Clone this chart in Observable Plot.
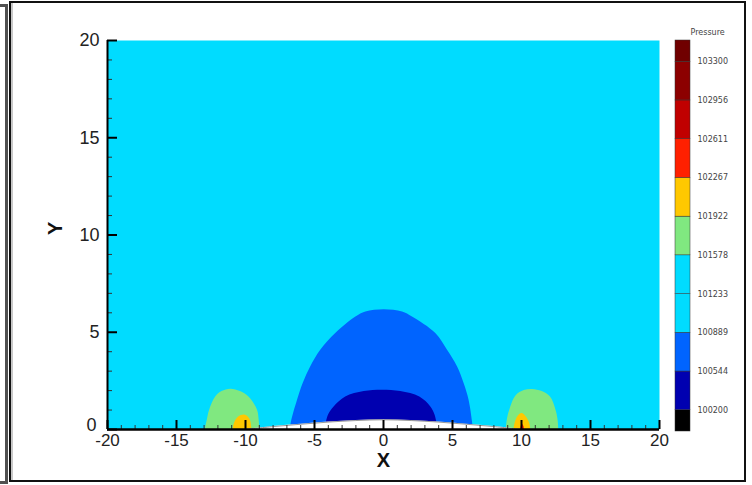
<!DOCTYPE html>
<html><head><meta charset="utf-8">
<script src="https://cdn.jsdelivr.net/npm/d3@7"></script>
<script src="https://cdn.jsdelivr.net/npm/@observablehq/plot@0.6"></script>
<style>
body{margin:0;background:#fff;}
#wrap{position:relative;width:752px;height:485px;overflow:hidden;background:#fff;}
#wrap svg{position:absolute;left:0;top:0;}
.leftbar{position:absolute;left:-10px;top:4px;width:12px;height:474px;border:3px solid #505050;}
.frame{position:absolute;left:9px;top:1px;width:733px;height:477px;border:2px solid #111;box-shadow:inset 2px 0 0 #c8c8c8;}
</style></head><body>
<div id="wrap"><div class="leftbar"></div><div class="frame"></div></div>
<script>
// Colour-bar levels (Pressure) and the fill colour of each band (lowest band first)
const levels = [100200, 100544, 100889, 101233, 101578, 101922, 102267, 102611, 102956, 103300];
const levelColors = ["#000000", "#0000b0", "#0064ff", "#00dcff", "#00dcff", "#80e880", "#ffc800", "#ff2000", "#c00000", "#8c0000", "#700000"];

// Axis ticks
const xMajor = [-20, -15, -10, -5, 0, 5, 10, 15, 20];
const yMajor = [0, 5, 10, 15, 20];
const xMinor = d3.range(-20, 21).filter(v => v % 5 !== 0);
const yMinor = d3.range(0, 21).filter(v => v % 5 !== 0);

// Contour band outlines: [x, y]
const blueDome = [[-6.75,0],[-6.67,0.39],[-6.23,1.5],[-5.82,2.36],[-5.27,3.22],[-4.55,4.07],[-3.46,4.93],[-2.0,5.78],[-1.28,6.04],[0.05,6.16],[1.38,6.04],[2.1,5.78],[3.79,4.93],[4.64,4.07],[5.36,3.22],[5.84,2.36],[6.2,1.5],[6.45,0.39],[6.5,0]];
const darkDome = [[-4.25,0],[-3.99,0.73],[-3.58,1.16],[-2.74,1.67],[-1.4,1.95],[-0.1,2.02],[1.25,1.95],[2.63,1.67],[3.43,1.16],[3.74,0.73],[3.95,0]];
const greenLeft = [[-12.92,0],[-12.77,0.48],[-12.6,0.99],[-12.16,1.67],[-11.7,1.95],[-11.06,2.07],[-10.37,1.95],[-9.75,1.67],[-9.13,0.99],[-9.01,0.48],[-8.97,0]];
const greenRight = [[8.9,0],[8.97,0.48],[9.15,0.99],[9.6,1.72],[10.2,2.0],[10.8,2.06],[11.5,1.95],[12.1,1.67],[12.5,0.99],[12.65,0.48],[12.7,0]];
const yellowLeft = [[-10.9,0],[-10.78,0.35],[-10.5,0.64],[-10.05,0.74],[-9.7,0.55],[-9.57,0.25],[-9.55,0]];
const yellowRight = [[9.45,0],[9.58,0.42],[9.8,0.72],[10.06,0.82],[10.38,0.62],[10.6,0.3],[10.67,0]];
const redRight = [[9.92,0],[10.0,0.2],[10.08,0.26],[10.18,0.15],[10.22,0]];
const bump = [[-10,0],[-8,0.15],[-6,0.27],[-4,0.38],[-2,0.46],[0,0.5],[2,0.46],[4,0.38],[6,0.27],[8,0.15],[10,0]];

const px = d => d[0], py = d => d[1];
const band = (data, color) => Plot.areaY(data, {x: px, y: py, fill: color, curve: "catmull-rom"});
const fmt = d => String(d);

const main = Plot.plot({
  width: 752, height: 485,
  marginLeft: 107, marginRight: 93, marginTop: 40, marginBottom: 56,
  style: {fontFamily: "'Liberation Sans', Arial, sans-serif", background: "transparent", color: "#222"},
  x: {domain: [-20, 20]},
  y: {domain: [0, 20]},
  marks: [
    Plot.frame({fill: levelColors[3], stroke: null}),
    band(blueDome, levelColors[2]),
    band(darkDome, levelColors[1]),
    band(greenLeft, levelColors[5]),
    band(greenRight, levelColors[5]),
    band(yellowLeft, levelColors[6]),
    band(yellowRight, levelColors[6]),
    band(redRight, levelColors[7]),
    Plot.areaY(bump, {x: px, y: py, fill: "white", curve: "catmull-rom"}),
    Plot.line(bump, {x: px, y: py, stroke: "#808080", strokeWidth: 0.8, curve: "catmull-rom"}),
    Plot.axisX(xMinor, {tickSize: -4, fill: "none", stroke: "#333", strokeWidth: 1, label: null}),
    Plot.axisX(xMajor, {tickSize: -9, fill: "none", stroke: "#000", strokeWidth: 2, label: null}),
    Plot.axisX(xMajor, {tickSize: 0, tickPadding: 4, fill: "#222", fontSize: 17, tickFormat: fmt, label: null}),
    Plot.axisY(yMinor, {tickSize: -5, fill: "none", stroke: "#333", strokeWidth: 1, label: null}),
    Plot.axisY(yMajor, {tickSize: -10, fill: "none", stroke: "#000", strokeWidth: 2, label: null}),
    Plot.axisY(yMajor.filter(v => v !== 0), {tickSize: 0, tickPadding: 8, fill: "#222", fontSize: 18, tickFormat: fmt, label: null}),
    Plot.axisY([0], {tickSize: 0, tickPadding: 11, dy: -4, fill: "#222", fontSize: 18, tickFormat: fmt, label: null}),
    Plot.ruleY([0], {stroke: "#000", strokeWidth: 2.5}),
    Plot.ruleX([-20], {stroke: "#000", strokeWidth: 2}),
    Plot.text(["X"], {frameAnchor: "bottom", dy: 37, fontSize: 20, fontWeight: "bold", fill: "#111"}),
    Plot.text(["Y"], {frameAnchor: "left", dx: -52, rotate: -90, fontSize: 20, fontWeight: "bold", fill: "#111"})
  ]
});

const step = (levels[levels.length - 1] - levels[0]) / (levels.length - 1);
const lo = levels[0] - 0.55 * step, hi = levels[levels.length - 1] + 0.55 * step;
const boxes = levelColors.map((c, i) => ({
  y1: i === 0 ? lo : levels[i - 1],
  y2: i === levels.length ? hi : levels[i],
  c
}));

const bar = Plot.plot({
  width: 92, height: 485, margin: 0,
  style: {fontFamily: "'DejaVu Sans', sans-serif", background: "transparent"},
  x: {domain: [0, 1], range: [15, 30], axis: null},
  y: {domain: [lo, hi], range: [431, 40], axis: null},
  color: {type: "identity"},
  marks: [
    Plot.rect(boxes, {x1: 0, x2: 1, y1: "y1", y2: "y2", fill: "c", stroke: "#333", strokeWidth: 0.5}),
    Plot.text(levels, {x: 1, y: d => d, dx: 7, textAnchor: "start", text: d => String(d), fontSize: 8, fill: "#444"}),
    Plot.text(["Pressure"], {x: 1, y: hi, dy: -8, dx: 0, textAnchor: "start", fontSize: 8, fill: "#444"})
  ]
});
bar.style.left = "660px";

const wrap = document.getElementById("wrap");
wrap.insertBefore(main, wrap.firstChild);
wrap.appendChild(bar);
</script>
</body></html>
